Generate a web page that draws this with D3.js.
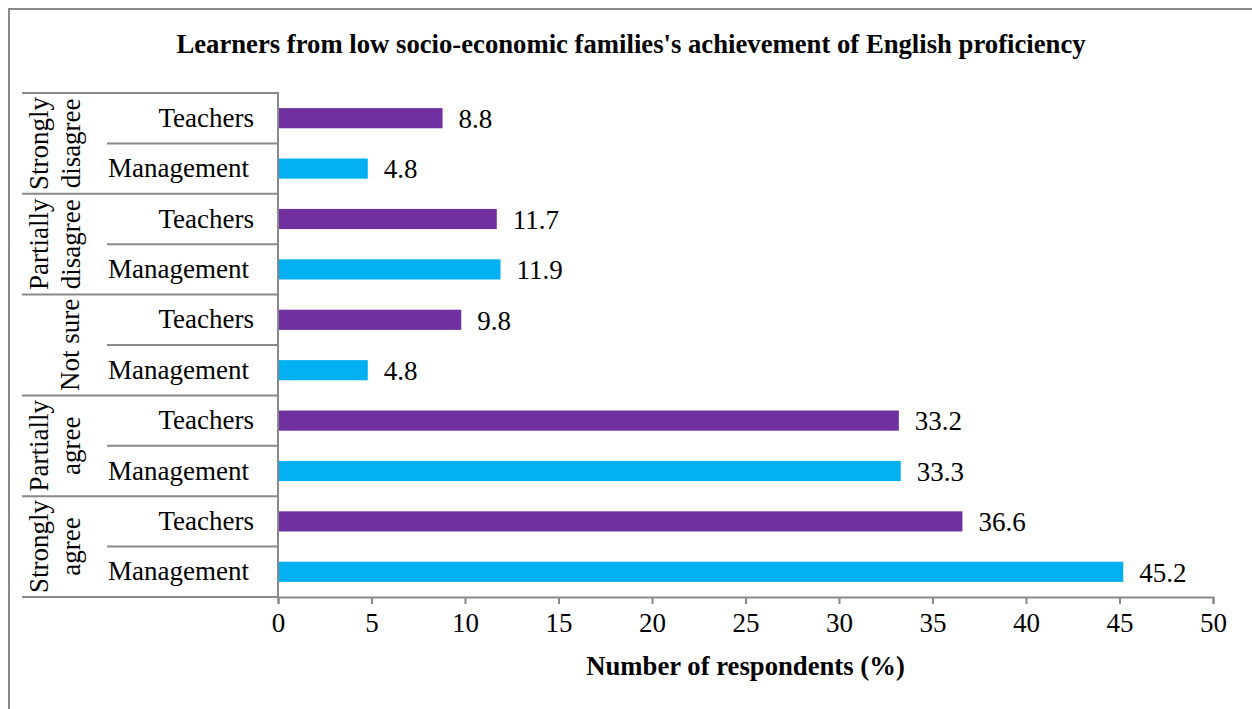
<!DOCTYPE html>
<html>
<head>
<meta charset="utf-8">
<script src="https://cdn.jsdelivr.net/npm/d3@7"></script>
<style>
  html, body { margin: 0; padding: 0; background: #fff; }
  svg { display: block; }
  text { font-family: "Liberation Serif", "Times New Roman", serif; fill: #000; }
</style>
</head>
<body>
<svg id="chart" width="1252" height="709"></svg>
<script>
// ---- data ----
const chartTitle = "Learners from low socio-economic families's achievement of English proficiency";
const axisTitle = "Number of respondents (%)";
const groups = ["Strongly disagree", "Partially disagree", "Not sure", "Partially agree", "Strongly agree"];
const groupLines = [["Strongly", "disagree"], ["Partially", "disagree"], ["Not sure"], ["Partially", "agree"], ["Strongly", "agree"]];
const roles = ["Teachers", "Management"];
const teachers = [8.8, 11.7, 9.8, 33.2, 36.6];
const management = [4.8, 11.9, 4.8, 33.3, 45.2];
const xTicks = [0, 5, 10, 15, 20, 25, 30, 35, 40, 45, 50];
const colors = { Teachers: "#7030A0", Management: "#00B0F0" };

// ---- layout ----
const svg = d3.select("#chart");
const W = 1252, H = 709;
const plotLeft = 278, plotRight = 1213, plotTop = 93, plotBottom = 597;
const gridColor = "#898989";
const fontSize = 27;
const boldSize = 26.7;
const roleLabelRight = { Teachers: 254, Management: 249 };

// outer border
svg.append("rect").attr("x", 9).attr("y", 9).attr("width", W + 10).attr("height", H + 10)
  .attr("fill", "none").attr("stroke", "#8a8a8a").attr("stroke-width", 2);

// rows
const rows = [];
groups.forEach((g, gi) => {
  roles.forEach(r => {
    rows.push({ group: g, gi, role: r, value: r === "Teachers" ? teachers[gi] : management[gi] });
  });
});
const rowKey = d => d.group + "|" + d.role;

const x = d3.scaleLinear().domain([0, 50]).range([plotLeft, plotRight]);
const y = d3.scaleBand().domain(rows.map(rowKey)).range([plotTop, plotBottom]).padding(0);
const barH = y.bandwidth() * 0.4;

// title
svg.append("text").attr("x", 631).attr("y", 53).attr("text-anchor", "middle")
  .attr("font-weight", "bold").attr("font-size", boldSize).text(chartTitle);

// bars
svg.selectAll("rect.bar").data(rows).enter().append("rect")
  .attr("class", "bar")
  .attr("x", x(0))
  .attr("y", d => y(rowKey(d)) + (y.bandwidth() - barH) / 2)
  .attr("width", d => x(d.value) - x(0))
  .attr("height", barH)
  .attr("fill", d => colors[d.role]);

// value labels
svg.selectAll("text.val").data(rows).enter().append("text")
  .attr("class", "val")
  .attr("x", d => x(d.value) + 16)
  .attr("y", d => y(rowKey(d)) + y.bandwidth() / 2)
  .attr("dy", "0.36em")
  .attr("font-size", fontSize)
  .text(d => d.value.toFixed(1));

// x axis
const xAxis = svg.append("g").attr("transform", `translate(0,${plotBottom})`)
  .call(d3.axisBottom(x).tickValues(xTicks).tickSize(7).tickSizeOuter(7).tickPadding(9).tickFormat(d3.format("d")));
xAxis.select(".domain").attr("stroke", gridColor).attr("stroke-width", 2);
xAxis.selectAll(".tick line").attr("stroke", gridColor).attr("stroke-width", 2);
xAxis.selectAll(".tick text").attr("font-size", fontSize)
  .attr("font-family", "'Liberation Serif', 'Times New Roman', serif").attr("fill", "#000");

// vertical category axis line
svg.append("line").attr("x1", plotLeft).attr("x2", plotLeft).attr("y1", plotTop - 1).attr("y2", plotBottom)
  .attr("stroke", gridColor).attr("stroke-width", 2);

// group separators (outer level)
const groupBounds = groups.map((g, gi) => y(g + "|" + roles[0]));
groupBounds.push(plotBottom);
svg.selectAll("line.gsep").data(groupBounds).enter().append("line")
  .attr("class", "gsep")
  .attr("x1", 22).attr("x2", plotLeft)
  .attr("y1", d => d).attr("y2", d => d)
  .attr("stroke", gridColor).attr("stroke-width", 2);

// inner separators between roles
svg.selectAll("line.rsep").data(groups).enter().append("line")
  .attr("class", "rsep")
  .attr("x1", 107).attr("x2", plotLeft)
  .attr("y1", g => y(g + "|" + roles[1])).attr("y2", g => y(g + "|" + roles[1]))
  .attr("stroke", gridColor).attr("stroke-width", 2);

// role labels
svg.selectAll("text.role").data(rows).enter().append("text")
  .attr("class", "role")
  .attr("x", d => roleLabelRight[d.role])
  .attr("y", d => y(rowKey(d)) + y.bandwidth() / 2)
  .attr("dy", "0.32em")
  .attr("text-anchor", "end")
  .attr("font-size", fontSize)
  .text(d => d.role);

// group labels (rotated)
groups.forEach((g, gi) => {
  const cy = (groupBounds[gi] + groupBounds[gi + 1]) / 2;
  const lines = groupLines[gi];
  const xs = lines.length === 1 ? [70] : [39, 71];
  lines.forEach((ln, li) => {
    svg.append("text")
      .attr("transform", `translate(${xs[li]},${cy}) rotate(-90)`)
      .attr("text-anchor", "middle")
      .attr("dy", "0.35em")
      .attr("font-size", fontSize)
      .text(ln);
  });
});

// axis title
svg.append("text").attr("x", (plotLeft + plotRight) / 2).attr("y", 675).attr("text-anchor", "middle")
  .attr("font-weight", "bold").attr("font-size", boldSize).text(axisTitle);
</script>
</body>
</html>
